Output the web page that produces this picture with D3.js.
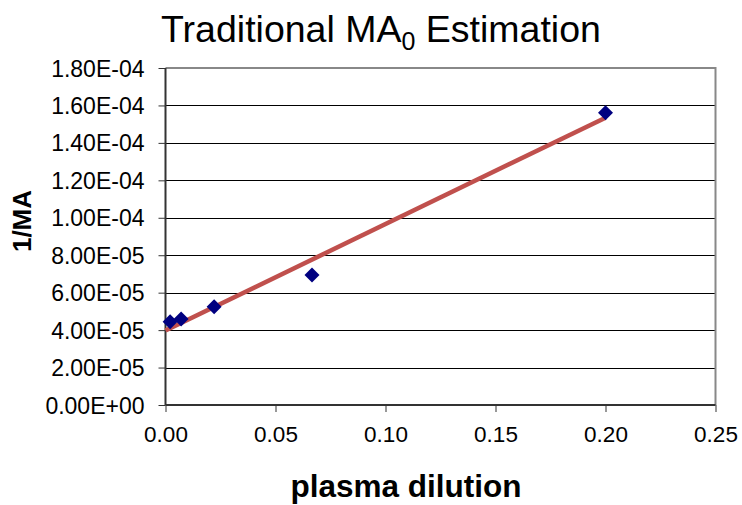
<!DOCTYPE html>
<html><head><meta charset="utf-8">
<script src="https://cdn.jsdelivr.net/npm/d3@7"></script>
<style>body{margin:0;background:#fff}svg{display:block}text{font-family:"Liberation Sans",Arial,sans-serif}</style>
</head><body>
<svg id="c" width="742" height="505"></svg>
<script>
const dilution = [0.0021, 0.0071, 0.0221, 0.0666, 0.2];
const invMA = [4.45e-5, 4.59e-5, 5.25e-5, 6.94e-5, 1.561e-4];
const xTicks = [0, 0.05, 0.10, 0.15, 0.20, 0.25];
const yTicks = [0, 2e-5, 4e-5, 6e-5, 8e-5, 1e-4, 1.2e-4, 1.4e-4, 1.6e-4, 1.8e-4];
const yTickLabels = ["0.00E+00","2.00E-05","4.00E-05","6.00E-05","8.00E-05","1.00E-04","1.20E-04","1.40E-04","1.60E-04","1.80E-04"];

const svg = d3.select("#c");
const L = 165.5, R = 715.5, T = 68, B = 405;
const x = d3.scaleLinear().domain([0, 0.25]).range([L, R]);
const y = d3.scaleLinear().domain([0, 1.8e-4]).range([B, T]);

// gridlines
svg.append("g").selectAll("line").data(yTicks.slice(1, -1)).join("line")
  .attr("x1", L).attr("x2", R)
  .attr("y1", d => Math.round(y(d)) + 0.5).attr("y2", d => Math.round(y(d)) + 0.5)
  .attr("stroke", "#000").attr("stroke-width", 1);

// plot border (top & right gray)
svg.append("path").attr("d", `M${L},${T}H${R}V${B}`).attr("fill", "none")
  .attr("stroke", "#888").attr("stroke-width", 2);

// axes
const yAxis = d3.axisLeft(y).tickValues(yTicks).tickFormat((d, i) => yTickLabels[i]).tickSize(7).tickPadding(14);
const gy = svg.append("g").attr("transform", `translate(${L},0)`).call(yAxis);
const xAxis = d3.axisBottom(x).tickValues(xTicks).tickFormat(d3.format(".2f")).tickSize(7).tickPadding(14);
const gx = svg.append("g").attr("transform", `translate(0,${B})`).call(xAxis);
[gy, gx].forEach(g => {
  g.select(".domain").attr("stroke", "#333").attr("stroke-width", 2);
  g.selectAll(".tick line").attr("stroke", "#333").attr("stroke-width", 1);
  g.selectAll(".tick text").attr("fill", "#000")
    .style("font-family", '"Liberation Sans", Arial, sans-serif');
});
gy.selectAll(".tick text").style("font-size", "23px").attr("dy", "0.35em");
gx.selectAll(".tick text").style("font-size", "22.5px");
gy.select(".domain").attr("d", `M0,${T}V${B}`);
gx.select(".domain").attr("d", `M${L},0H${R}`);

// linear regression trendline
const n = dilution.length;
const mx = d3.mean(dilution), my = d3.mean(invMA);
let sxy = 0, sxx = 0;
for (let i = 0; i < n; i++) { sxy += (dilution[i] - mx) * (invMA[i] - my); sxx += (dilution[i] - mx) ** 2; }
const slope = sxy / sxx, intercept = my - slope * mx;
const xs = [0, d3.max(dilution)];
svg.append("line")
  .attr("x1", x(xs[0])).attr("y1", y(intercept + slope * xs[0]))
  .attr("x2", x(xs[1])).attr("y2", y(intercept + slope * xs[1]))
  .attr("stroke", "#C0504D").attr("stroke-width", 4.5);

// markers
svg.append("g").selectAll("path").data(dilution.map((d, i) => [d, invMA[i]])).join("path")
  .attr("transform", d => `translate(${x(d[0])},${y(d[1])})`)
  .attr("d", "M0,-7.5L7.5,0L0,7.5L-7.5,0Z")
  .attr("fill", "#000080");

// title
const title = svg.append("text").attr("x", 381).attr("y", 42).attr("text-anchor", "middle")
  .style("font-size", "37.5px").attr("fill", "#000");
title.append("tspan").text("Traditional MA");
title.append("tspan").attr("dy", 8).style("font-size", "25px").text("0");
title.append("tspan").attr("dy", -8).text(" Estimation");

// axis titles
svg.append("text").attr("x", 406).attr("y", 497).attr("text-anchor", "middle")
  .style("font-size", "31.5px").style("font-weight", "bold").text("plasma dilution");
svg.append("text").attr("transform", "translate(31,221) rotate(-90)").attr("text-anchor", "middle")
  .style("font-size", "26px").style("font-weight", "bold").text("1/MA");
</script>
</body></html>
